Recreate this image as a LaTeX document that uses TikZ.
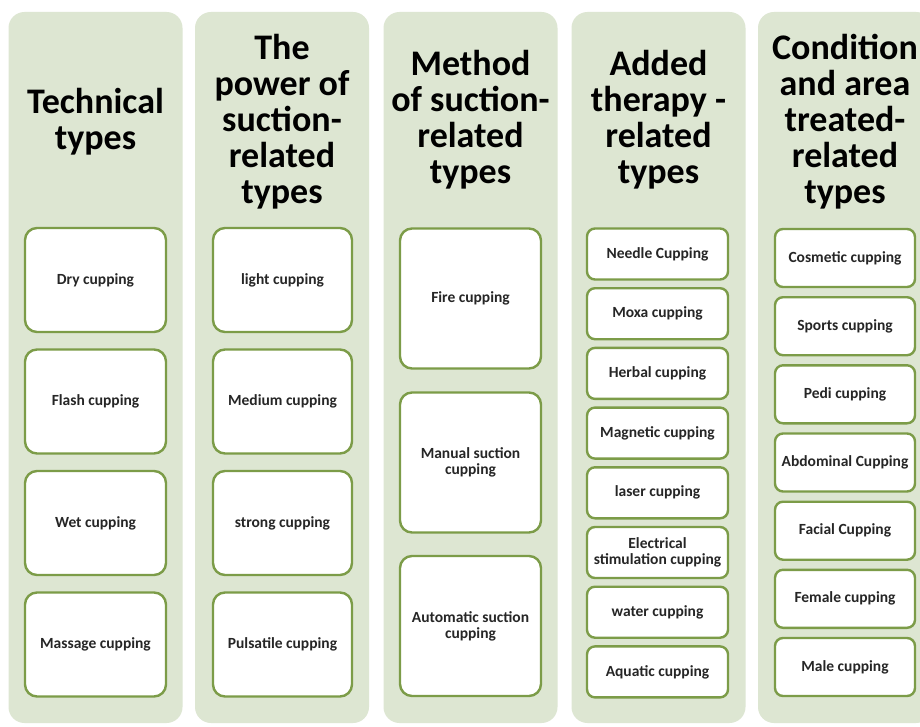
\documentclass[tikz,border=0pt]{standalone}
\usepackage{fontspec}
\setmainfont{Carlito}
\definecolor{colbg}{RGB}{221,230,210}
\definecolor{boxln}{RGB}{124,156,72}
\begin{document}
\begin{tikzpicture}[x=1pt,y=-1pt,
  column/.style={fill=colbg, rounded corners=16pt, minimum width=174pt, minimum height=711pt, inner sep=0pt},
  title/.style={align=center, font=\fontsize{36}{36}\selectfont\bfseries, text=black, inner sep=0pt},
  bigbox/.style={draw=boxln, line width=2.4pt, fill=white, rounded corners=12pt, minimum width=140pt, align=center, inner sep=0pt, font=\fontsize{15.5}{16}\selectfont\bfseries, text=black!85},
  smallbox/.style={draw=boxln, line width=2.4pt, fill=white, rounded corners=8pt, minimum width=140pt, align=center, inner sep=0pt, font=\fontsize{15.5}{16}\selectfont\bfseries, text=black!85}
]
\useasboundingbox (0,0) rectangle (920,727);
\clip (0,0) rectangle (920,727);
\fill[white] (0,0) rectangle (920,727);
% columns
\node[column] (c1) at (95.5,367.5) {};
\node[column] (c2) at (282,367.5) {};
\node[column] (c3) at (470.5,367.5) {};
\node[column] (c4) at (658.5,367.5) {};
\node[column] (c5) at (845,367.5) {};
% titles
\node[title] (t1) at (95.5,122) {Technical\\types};
\node[title] (t2) at (282,122) {The\\power of\\suction-\\related\\types};
\node[title] (t3) at (470.5,120) {Method\\of suction-\\related\\types};
\node[title] (t4) at (658.5,120) {Added\\therapy -\\related\\types};
\node[title] (t5) at (845,122) {Condition\\and area\\treated-\\related\\types};
% column 1
\begin{scope}[every node/.style={bigbox, minimum height=104pt, minimum width=141pt}]
\node (a1) at (95.5,280) {Dry cupping};
\node (a2) at (95.5,401.5) {Flash cupping};
\node (a3) at (95.5,523) {Wet cupping};
\node (a4) at (95.5,644.5) {Massage cupping};
\end{scope}
% column 2
\begin{scope}[every node/.style={bigbox, minimum height=104pt, minimum width=139pt}]
\node (b1) at (282.5,280) {light cupping};
\node (b2) at (282.5,401.5) {Medium cupping};
\node (b3) at (282.5,523) {strong cupping};
\node (b4) at (282.5,644.5) {Pulsatile cupping};
\end{scope}
% column 3
\begin{scope}[every node/.style={bigbox, minimum height=140pt, minimum width=141pt}]
\node (m1) at (470.5,298.5) {Fire cupping};
\node (m2) at (470.5,462.5) {Manual suction\\cupping};
\node (m3) at (470.5,626) {Automatic suction\\cupping};
\end{scope}
% column 4
\begin{scope}[every node/.style={smallbox, minimum height=51pt, minimum width=141pt}]
\node (d1) at (657.5,254) {Needle Cupping};
\node (d2) at (657.5,313.7) {Moxa cupping};
\node (d3) at (657.5,373.4) {Herbal cupping};
\node (d4) at (657.5,433.1) {Magnetic cupping};
\node (d5) at (657.5,492.8) {laser cupping};
\node (d6) at (657.5,552.5) {Electrical\\stimulation cupping};
\node (d7) at (657.5,612.2) {water cupping};
\node (d8) at (657.5,671.9) {Aquatic cupping};
\end{scope}
% column 5
\begin{scope}[every node/.style={smallbox, minimum height=58pt, minimum width=140pt}]
\node (e1) at (845,258) {Cosmetic cupping};
\node (e2) at (845,326.2) {Sports cupping};
\node (e3) at (845,394.3) {Pedi cupping};
\node (e4) at (845,462.5) {Abdominal Cupping};
\node (e5) at (845,530.7) {Facial Cupping};
\node (e6) at (845,598.8) {Female cupping};
\node (e7) at (845,667) {Male cupping};
\end{scope}
\end{tikzpicture}
\end{document}
